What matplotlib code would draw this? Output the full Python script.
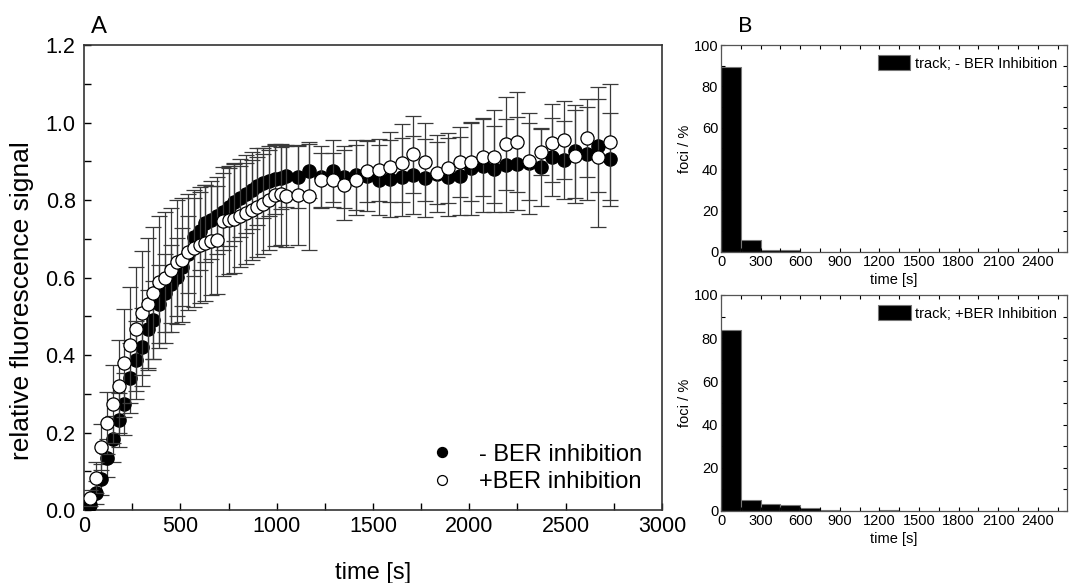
import matplotlib.pyplot as plt
from matplotlib.ticker import MultipleLocator

plt.rcParams['font.family'] = ['Liberation Sans', 'DejaVu Sans']

# Panel A: recruitment kinetics (time in s)
time = [30, 60, 90, 120, 150, 180, 210, 240, 270, 300, 330, 360, 390, 420, 450,
        480, 510, 540, 570, 600, 630, 660, 690, 720, 750, 780, 810, 840, 870, 900,
        930, 960, 990, 1020, 1050,
        1110, 1170, 1230, 1290, 1350, 1410, 1470, 1530, 1590, 1650, 1710, 1770,
        1830, 1890, 1950, 2010, 2070, 2130, 2190, 2250, 2310, 2370, 2430, 2490,
        2550, 2610, 2670, 2730]

minus_ber = [0.013, 0.045, 0.08, 0.134, 0.183, 0.232, 0.274, 0.341, 0.387, 0.421,
             0.467, 0.49, 0.532, 0.56, 0.583, 0.601, 0.627, 0.66, 0.705, 0.72,
             0.74, 0.748, 0.76, 0.77, 0.782, 0.795, 0.805, 0.815, 0.825, 0.835,
             0.843, 0.85, 0.855, 0.858, 0.862,
             0.86, 0.875, 0.86, 0.875, 0.86, 0.865, 0.862, 0.852, 0.855, 0.859,
             0.865, 0.857, 0.868, 0.859, 0.862, 0.882, 0.888, 0.88, 0.89, 0.893,
             0.895, 0.885, 0.911, 0.903, 0.926, 0.92, 0.94, 0.905]
minus_err = [0.02, 0.03, 0.04, 0.05, 0.06, 0.07, 0.08, 0.09, 0.1, 0.1,
             0.1, 0.1, 0.1, 0.1, 0.1, 0.1, 0.1, 0.1, 0.1, 0.1,
             0.1, 0.1, 0.1, 0.1, 0.1, 0.1, 0.1, 0.1, 0.1, 0.1,
             0.09, 0.09, 0.09, 0.08, 0.08,
             0.08, 0.07, 0.08, 0.08, 0.08, 0.09, 0.09, 0.09, 0.1, 0.1,
             0.1, 0.1, 0.1, 0.1, 0.1, 0.12, 0.12, 0.11, 0.12, 0.12,
             0.13, 0.1, 0.1, 0.1, 0.12, 0.12, 0.12, 0.12]

plus_ber = [0.031, 0.083, 0.163, 0.224, 0.274, 0.32, 0.38, 0.426, 0.467, 0.508,
            0.532, 0.56, 0.588, 0.6, 0.62, 0.64, 0.645, 0.665, 0.675, 0.684,
            0.69, 0.695, 0.697, 0.745, 0.748, 0.752, 0.758, 0.766, 0.774, 0.782,
            0.79, 0.8, 0.812, 0.815, 0.81,
            0.813, 0.81, 0.852, 0.852, 0.839, 0.852, 0.875, 0.877, 0.885, 0.895,
            0.918, 0.898, 0.87, 0.882, 0.898, 0.898, 0.911, 0.911, 0.945, 0.95,
            0.9, 0.924, 0.947, 0.955, 0.913, 0.96, 0.911, 0.95]
plus_err = [0.02, 0.04, 0.06, 0.08, 0.1, 0.12, 0.14, 0.15, 0.16, 0.16,
            0.17, 0.17, 0.17, 0.17, 0.16, 0.16, 0.16, 0.15, 0.15, 0.15,
            0.15, 0.14, 0.14, 0.14, 0.14, 0.14, 0.13, 0.13, 0.13, 0.13,
            0.13, 0.13, 0.13, 0.13, 0.13,
            0.13, 0.14, 0.07, 0.07, 0.09, 0.09, 0.08, 0.08, 0.09, 0.1,
            0.1, 0.1, 0.08, 0.09, 0.09, 0.1, 0.1, 0.12, 0.12, 0.13,
            0.1, 0.06, 0.1, 0.1, 0.12, 0.1, 0.18, 0.15]

# Panel B: histograms of foci lifetime, 150 s bins
bin_left = [0, 150, 300, 450, 600, 750, 900, 1050, 1200]
foci_minus = [89.5, 6, 1, 1, 0, 0, 0, 0, 0]
foci_plus = [83.8, 5.3, 3.2, 2.6, 1.6, 0.5, 0, 0, 0.4]

fig = plt.figure(figsize=(10.72, 5.83), dpi=100)

# ---- panel A
ax = fig.add_axes([0.0784, 0.1252, 0.5391, 0.7976])
ax.errorbar(time, minus_ber, yerr=minus_err, fmt='o', color='black', ms=9.5,
            ecolor='#3a3a3a', elinewidth=0.9, capsize=6, capthick=0.9,
            label='- BER inhibition', zorder=3)
ax.errorbar(time, plus_ber, yerr=plus_err, fmt='o', mfc='white', mec='black',
            mew=0.9, ms=9.5, ecolor='#3a3a3a', elinewidth=0.9, capsize=6,
            capthick=0.9, label='+BER inhibition', zorder=4)
ax.set_xlim(0, 3000)
ax.set_ylim(0, 1.2)
ax.xaxis.set_major_locator(MultipleLocator(500))
ax.xaxis.set_minor_locator(MultipleLocator(250))
ax.yaxis.set_major_locator(MultipleLocator(0.2))
ax.yaxis.set_minor_locator(MultipleLocator(0.1))
ax.yaxis.set_major_formatter(plt.FormatStrFormatter('%.1f'))
ax.tick_params(which='both', direction='in', labelsize=15.5, length=5, width=1)
ax.tick_params(axis='x', pad=4)
ax.tick_params(axis='y', pad=6)
ax.set_xlabel('time [s]', fontsize=17, labelpad=18)
ax.set_ylabel('relative fluorescence signal', fontsize=19)
ax.yaxis.set_label_coords(-0.087, 0.45)
for s in ax.spines.values():
    s.set_linewidth(1.2)
    s.set_color('#333333')
handles, labels = ax.get_legend_handles_labels()
handles = [h[0] for h in handles]
ax.legend(handles, labels, loc='lower right', frameon=False, fontsize=17,
          markerscale=0.75, handlelength=1.2, handletextpad=1.0,
          labelspacing=0.25, borderaxespad=0.3, bbox_to_anchor=(0.995, 0.0))
fig.text(0.085, 0.943, 'A', fontsize=17, family='Lato')

# ---- panel B
def hist_panel(rect, values, label):
    bx = fig.add_axes(rect)
    bx.bar(bin_left, values, width=150, align='edge', color='black',
           edgecolor='#777777', linewidth=0.8, label=label)
    bx.set_xlim(0, 2620)
    bx.set_ylim(0, 100)
    bx.xaxis.set_major_locator(MultipleLocator(300))
    bx.xaxis.set_minor_locator(MultipleLocator(150))
    bx.yaxis.set_major_locator(MultipleLocator(20))
    bx.yaxis.set_minor_locator(MultipleLocator(10))
    bx.tick_params(which='both', direction='in', top=True, right=True,
                   labelsize=10.5, length=3, width=0.8, pad=2)
    bx.set_xlabel('time [s]', fontsize=10.5, labelpad=3)
    bx.set_ylabel('foci / %', fontsize=10.5, labelpad=1)
    for s in bx.spines.values():
        s.set_linewidth(0.9)
        s.set_color('#555555')
    bx.legend(loc='upper right', frameon=False, fontsize=10.5, handlelength=2.2,
              handleheight=1.2, handletextpad=0.3, borderaxespad=0.3)
    return bx

hist_panel([0.6726, 0.5678, 0.3227, 0.355], foci_minus, 'track; - BER Inhibition')
hist_panel([0.6726, 0.1235, 0.3227, 0.3705], foci_plus, 'track; +BER Inhibition')
fig.text(0.688, 0.945, 'B', fontsize=16, family='Lato')

fig.savefig('out.png', dpi=100)
